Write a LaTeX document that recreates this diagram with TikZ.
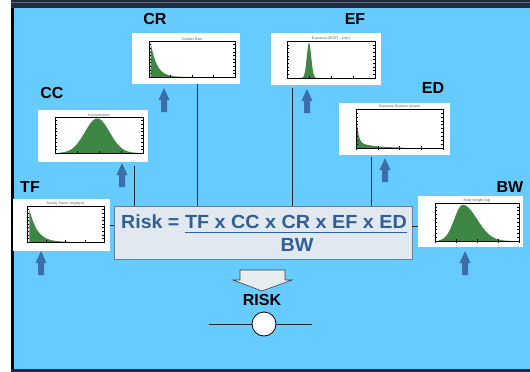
\documentclass[tikz,border=0pt]{standalone}
\usepackage{fontspec}
\usepackage{graphicx}
\setmainfont{Liberation Sans}
\usetikzlibrary{calc}
\definecolor{bgblue}{HTML}{66CCFF}
\definecolor{topband}{HTML}{1F2B3B}
\definecolor{topline}{HTML}{5A6C84}
\definecolor{distgreen}{RGB}{62,134,68}
\definecolor{arrowblue}{RGB}{58,110,168}
\definecolor{fcol}{RGB}{47,95,150}
\definecolor{ffill}{RGB}{225,232,239}
\definecolor{fdraw}{RGB}{100,128,160}
\definecolor{bigfill}{RGB}{230,238,242}
\tikzset{
  chartbox/.style={fill=white, draw=none, inner sep=0pt, rectangle},
  frame/.style={draw=black, line width=0.7pt},
  tickmark/.style={draw=black, line width=0.35pt},
  charttitle/.style={font=\fontsize{3.5}{4}\selectfont, text=black!65, anchor=south, inner sep=0.6pt},
  lbl/.style={font=\fontsize{16}{16}\selectfont\bfseries, text=black, inner sep=0pt},
  ftext/.style={font=\fontsize{19}{19}\selectfont\bfseries, text=fcol, inner sep=0pt},
  fbox/.style={rectangle, fill=ffill, draw=fdraw, line width=0.9pt, inner sep=0pt},
  conn/.style={draw=black!85, line width=0.8pt},
  uparrow/.pic={\fill[arrowblue] (-3,24) -- (-3,12) -- (-5.5,12) -- (0,0) -- (5.5,12) -- (3,12) -- (3,24) -- cycle;}
}
\newcommand\distchart[6]{%
  \begin{scope}[shift={(#1,#2)}]
  \begin{scope}[x=#3pt,y=#4pt]
    \fill[distgreen] #6;
    \foreach \t in {0.1,0.2,0.3,0.4,0.5,0.6,0.7,0.8,0.9} {
      \draw[tickmark] (0,\t) -- (0.025,\t);
      \draw[tickmark] (1,\t) -- (0.975,\t);
    }
    \foreach \t in {0,0.25,0.5,0.75,1} {
      \draw[tickmark] (\t,0) -- (\t,0.05);
      \draw[tickmark] (\t,0) -- (\t,-0.04);
    }
    \draw[frame] (0,0) rectangle (1,1);
    \node[charttitle] at (0.5,1) {#5};
  \end{scope}
  \end{scope}}
\begin{document}
\begin{tikzpicture}[x=1pt,y=-1pt]
\useasboundingbox (0,0) rectangle (530,372);
% background and frame
\fill[white] (0,0) rectangle (530,372);
\fill[bgblue] (14,0) rectangle (530,372);
\fill[black] (11,0) rectangle (14,372);
\fill[topband] (11,0) rectangle (530,8);
\draw[topline, line width=0.6pt] (11,2) -- (530,2);
\fill[topband] (11,369) rectangle (530,372);

% labels
\node[lbl] (lcr) at (155,19) {CR};
\node[lbl] (lef) at (355,19) {EF};
\node[lbl] (led) at (433,88) {ED};
\node[lbl] (lcc) at (52,93) {CC};
\node[lbl] (ltf) at (30,187) {TF};
\node[lbl] (lbw) at (510,187) {BW};

% chart boxes
\node[chartbox, minimum width=108pt, minimum height=51pt] (cr) at (186,58.5) {};
\node[chartbox, minimum width=110pt, minimum height=52pt] (ef) at (326,59) {};
\node[chartbox, minimum width=111pt, minimum height=52pt] (ed) at (394.5,129) {};
\node[chartbox, minimum width=110pt, minimum height=52pt] (cc) at (93,136) {};
\node[chartbox, minimum width=97pt, minimum height=52pt] (tf) at (61.5,225) {};
\node[chartbox, minimum width=105pt, minimum height=51pt] (bw) at (470.5,221.5) {};

% distributions
\distchart{149}{77}{86}{36}{Contact Rate}{(0.02,0) -- plot[domain=0.02:0.5,samples=60] (\x,{0.95*exp(-(\x-0.02)*14)}) -- (0.5,0) -- cycle}
\distchart{287}{78}{88}{37}{Exposure (EF/ET - hr/yr)}{(0.15,0) -- plot[domain=0.15:0.35,samples=60] (\x,{0.95*exp(-0.5*(((\x-0.25)/0.025)^2))}) -- (0.35,0) -- cycle}
\distchart{356}{148}{87}{39}{Exposure Duration (years)}{(0.005,0) -- plot[domain=0.005:0.55,samples=80] (\x,{0.82*exp(-\x*45)+0.15*exp(-\x*5)}) -- (0.55,0) -- cycle}
\distchart{55}{153}{88}{36}{Concentration}{(0.05,0) -- plot[domain=0.05:0.95,samples=70] (\x,{0.96*exp(-0.5*(((\x-0.48)/0.14)^2))}) -- (0.95,0) -- cycle}
\distchart{27}{242}{77}{36}{Toxicity Factor (mg/kg d)}{(0.03,0) -- plot[domain=0.03:0.6,samples=60] (\x,{0.93*exp(-(\x-0.03)*10)}) -- (0.6,0) -- cycle}
\distchart{435}{241}{84}{38}{Body Weight (kg)}{(0.05,0) -- plot[domain=0.05:0.9,samples=80] (\x,{\x<0.33 ? 0.95*exp(-0.5*(((\x-0.33)/0.1)^2)) : 0.95*exp(-0.5*(((\x-0.33)/0.17)^2))}) -- (0.9,0) -- cycle}

% up arrows
\pic at (164,88) {uparrow};
\pic at (307,89) {uparrow};
\pic at (385,158) {uparrow};
\pic at (122,163) {uparrow};
\pic at (41,251) {uparrow};
\pic at (465,251) {uparrow};

% formula box
\node[fbox, minimum width=298pt, minimum height=53pt] (formula) at (263,232.5) {};
\node[ftext, anchor=base west] (risklhs) at (121,228) {\scalebox{1.03}[1]{Risk =}};
\node[ftext, anchor=base] (num) at (296,228) {\scalebox{1.04}[1]{TF x CC x CR x EF x ED}};
\draw[fcol, line width=1.8pt] (185,232.5) -- (407,232.5);
\node[ftext, anchor=base] (den) at (297,251) {\scalebox{1.04}[1]{BW}};

% connectors
\coordinate (ccl) at (134,166);
\coordinate (crl) at (197,84);
\coordinate (efl) at (292,88);
\coordinate (edl) at (371,157);
\coordinate (bwl) at (0,226);
\draw[conn] (ccl) -- (formula.north -| ccl);
\draw[conn] (crl) -- (formula.north -| crl);
\draw[conn] (efl) -- (formula.north -| efl);
\draw[conn] (edl) -- (formula.north -| edl);
\draw[conn] (tf.east) -- (formula.west |- tf.east);
\draw[conn] (formula.east |- bwl) -- (bw.west |- bwl);

% result arrow
\filldraw[fill=bigfill, draw=black!75, line width=0.6pt] (240,270) -- (285,270) -- (285,280) -- (292,280) -- (262,291) -- (233,280) -- (240,280) -- cycle;
\node[lbl] (risk) at (262,300) {RISK};
\node[circle, draw=black, fill=white, line width=0.8pt, minimum size=24pt, inner sep=0pt] (rc) at (264,324) {};
\coordinate (rl) at (209,324);
\coordinate (rr) at (312,324);
\draw[conn] (rl) -- (rc);
\draw[conn] (rc) -- (rr);
\end{tikzpicture}
\end{document}
